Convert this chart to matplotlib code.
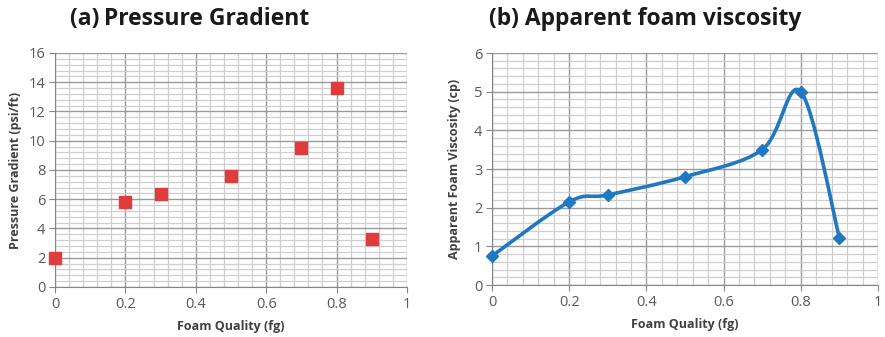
import numpy as np
import matplotlib.pyplot as plt
from matplotlib.path import Path
from matplotlib.patches import PathPatch
from matplotlib.ticker import MultipleLocator

# data
quality = [0, 0.2, 0.3, 0.5, 0.7, 0.8, 0.9]
pressure_grad = [2.0, 5.8, 6.35, 7.6, 9.5, 13.6, 3.3]
foam_visc = [0.75, 2.15, 2.33, 2.8, 3.5, 5.0, 1.22]

plt.rcParams['font.family'] = ['Open Sans', 'DejaVu Sans']

tick_col = '#595959'
major_col = '#9a9a9a'
minor_col = '#cfcfcf'


def excel_axes(ax, ymax, ymajor):
    ax.set_xlim(0, 1)
    ax.set_ylim(0, ymax)
    ax.xaxis.set_major_locator(MultipleLocator(0.2))
    ax.xaxis.set_minor_locator(MultipleLocator(0.04))
    ax.yaxis.set_major_locator(MultipleLocator(ymajor))
    ax.yaxis.set_minor_locator(MultipleLocator(ymajor / 5))
    ax.grid(which='major', color=major_col, lw=1.0)
    ax.grid(which='minor', color=minor_col, lw=0.9)
    ax.set_axisbelow(True)
    for s in ['top', 'right']:
        ax.spines[s].set_visible(False)
    for s in ['left', 'bottom']:
        ax.spines[s].set_color('#868686')
    ax.tick_params(which='major', length=4, color='#868686', labelsize=10.5,
                   labelcolor=tick_col, pad=3)
    ax.tick_params(which='minor', length=0)
    ax.xaxis.set_major_formatter(lambda v, p: f'{v:g}')


def smooth_path(xs, ys):
    # Excel-style smoothed line: cubic Bezier through points
    pts = np.column_stack([xs, ys])
    n = len(pts)
    verts = [pts[0]]
    codes = [Path.MOVETO]
    for i in range(n - 1):
        p0 = pts[max(i - 1, 0)]
        p1 = pts[i]
        p2 = pts[i + 1]
        p3 = pts[min(i + 2, n - 1)]
        c1 = p1 + (p2 - p0) / 6
        c2 = p2 - (p3 - p1) / 6
        verts += [c1, c2, p2]
        codes += [Path.CURVE4] * 3
    return Path(verts, codes)


fig = plt.figure(figsize=(8.85, 3.37), dpi=100)

lab_kw = dict(fontsize=9, fontweight='bold', color='#404040')

ax1 = fig.add_axes([0.0621, 0.1484, 0.3977, 0.6944])
excel_axes(ax1, 16, 2)
ax1.scatter(quality, pressure_grad, marker='s', s=75, color='#e03c3c',
            zorder=3, clip_on=False)
ax1.set_xlabel('Foam Quality (fg)', labelpad=6, **lab_kw)
ax1.set_ylabel('Pressure Gradient (psi/ft)', labelpad=5, **lab_kw)

ax2 = fig.add_axes([0.5559, 0.1543, 0.4362, 0.6884])
excel_axes(ax2, 6, 1)
blue = '#1f78c1'
ax2.add_patch(PathPatch(smooth_path(quality, foam_visc), fc='none',
                        ec=blue, lw=2.6, zorder=3))
ax2.plot(quality, foam_visc, ls='none', marker='D', ms=6.5, color=blue,
         zorder=4, clip_on=False)
ax2.set_xlabel('Foam Quality (fg)', labelpad=6, **lab_kw)
ax2.set_ylabel('Apparent Foam Viscosity (cp)', labelpad=9, **lab_kw)

fig.text(0.079, 0.945, '(a)\u2009Pressure Gradient', fontsize=16.5,
         fontweight='bold', color='#1a1a1a', va='center', ha='left')
fig.text(0.553, 0.945, '(b) Apparent foam viscosity', fontsize=16.5,
         fontweight='bold', color='#1a1a1a', va='center', ha='left')

fig.savefig('out.png', dpi=100)
